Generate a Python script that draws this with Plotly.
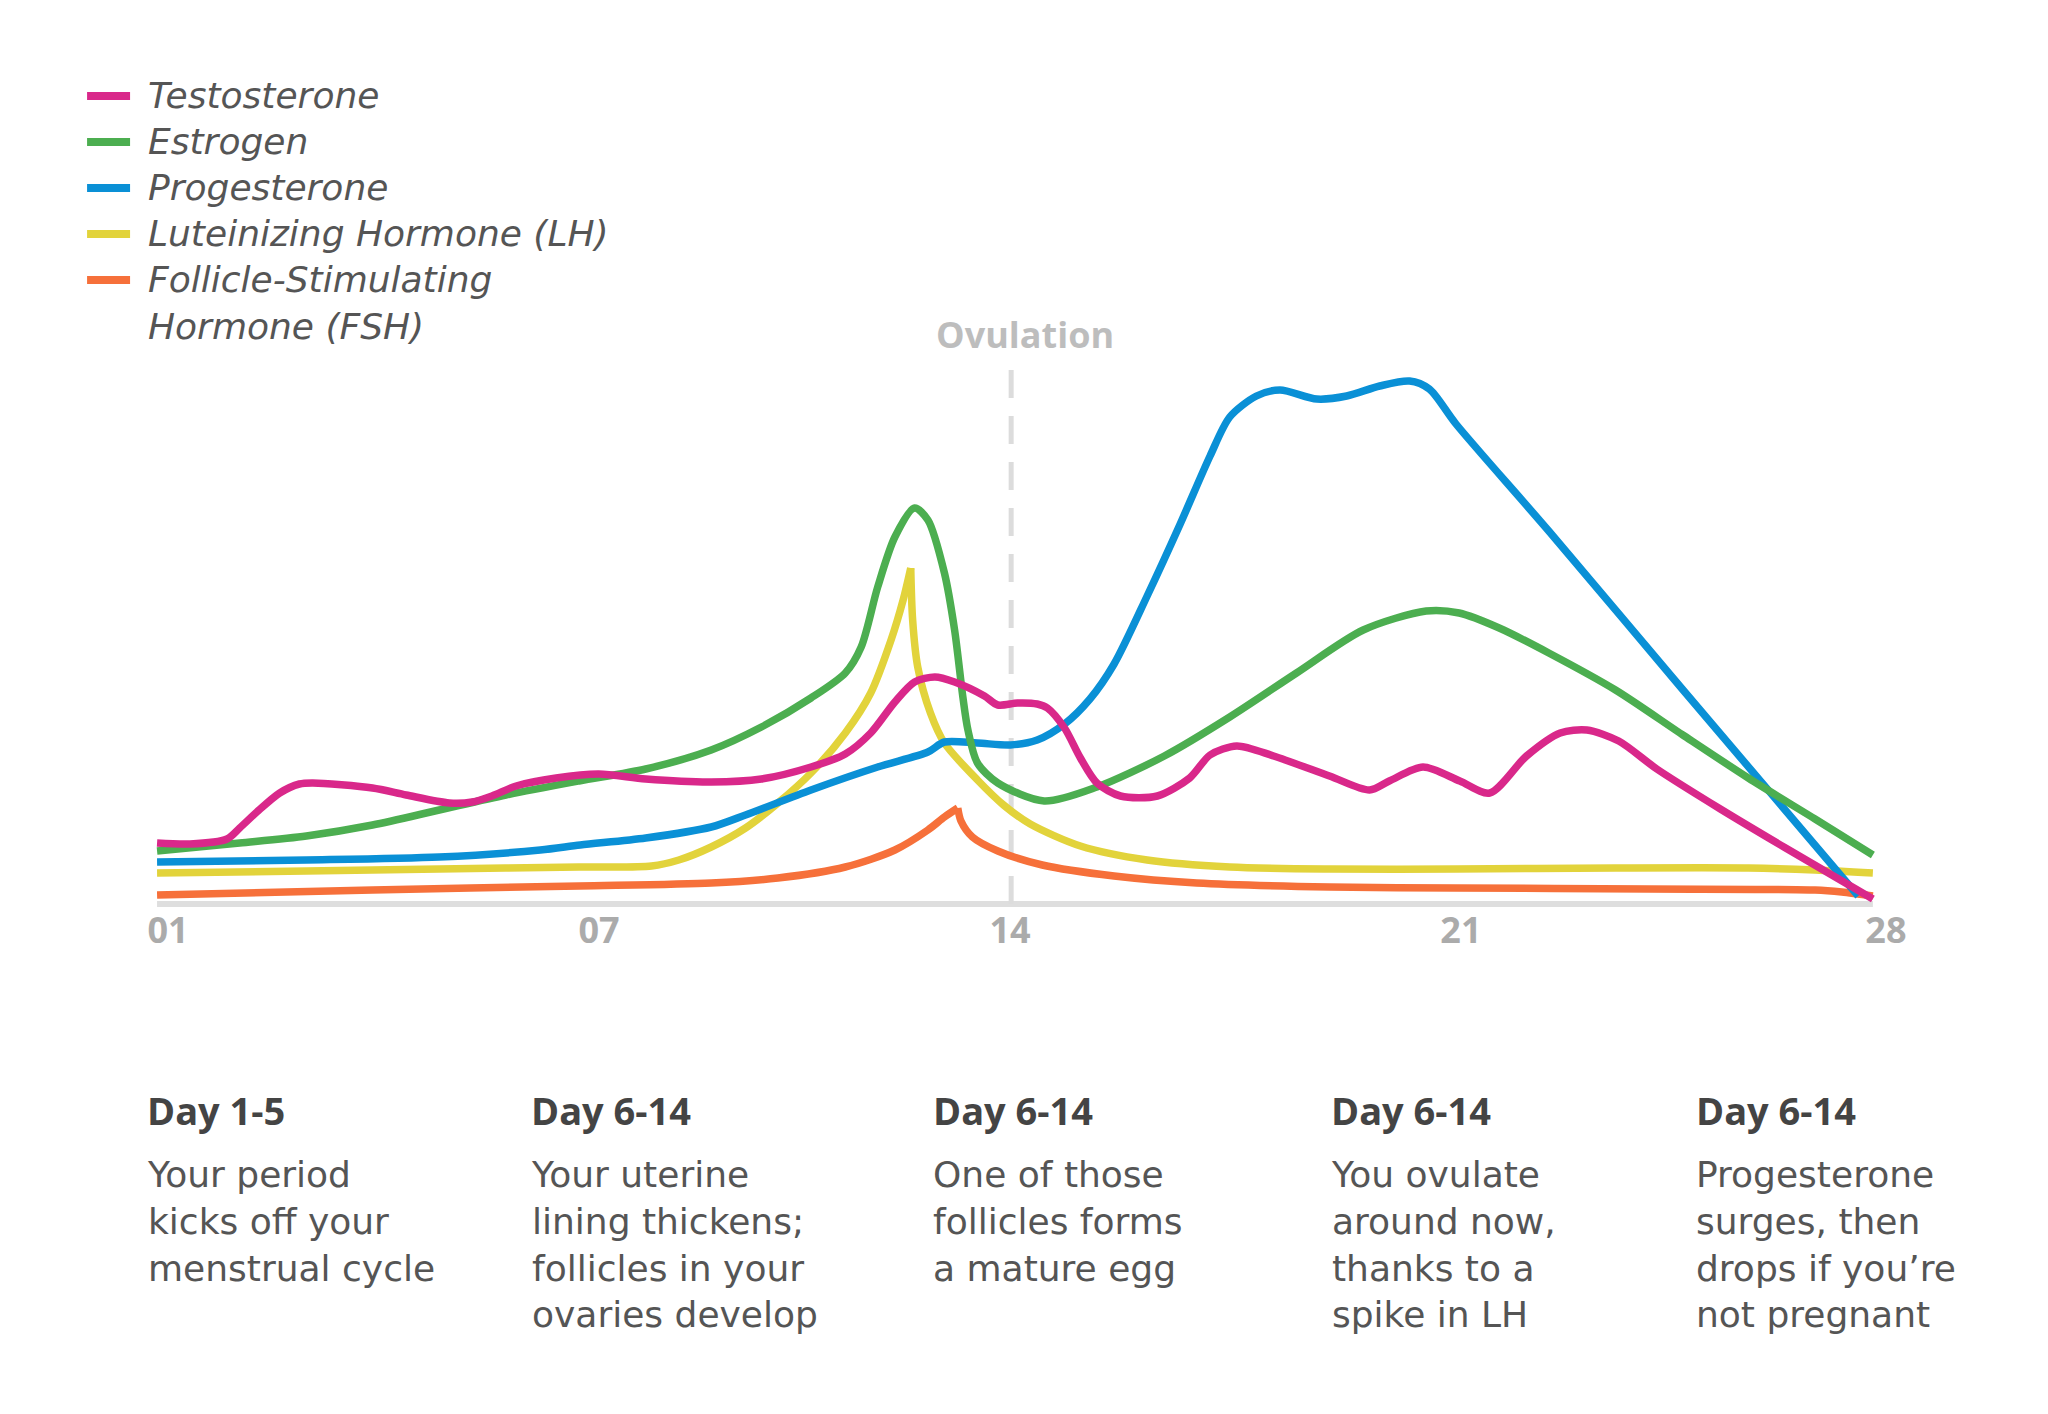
import numpy as np
import plotly.graph_objects as go

# ---------------- data ----------------
testosterone_day = [1.00, 1.52, 2.10, 2.30, 2.57, 2.93, 3.24, 3.45, 4.39, 4.92, 5.60, 5.96, 6.27, 6.65,
                    7.28, 7.95, 8.69, 9.72, 10.51, 11.29, 11.83, 12.23, 12.61, 12.92, 13.24, 13.55,
                    14.02, 14.23, 14.54, 14.85, 15.01, 15.28, 15.53, 15.79, 16.16, 16.74, 17.25,
                    17.57, 17.99, 18.57, 19.45, 20.08, 20.39, 20.92, 21.50, 21.97, 22.55, 23.08,
                    23.50, 24.00, 24.60, 25.60, 26.60, 28.00]
testosterone_lvl = [6.1, 6.0, 6.5, 7.6, 9.2, 11.1, 12.0, 12.1, 11.6, 10.9, 10.1, 10.2, 10.8, 11.8,
                    12.6, 13.0, 12.5, 12.2, 12.5, 13.7, 15.0, 17.1, 20.2, 22.2, 22.7, 22.2,
                    20.8, 19.9, 20.1, 20.0, 19.6, 17.6, 14.6, 12.1, 10.8, 10.8, 12.6,
                    14.9, 15.8, 14.8, 12.8, 11.4, 12.3, 13.7, 12.3, 11.1, 14.8, 17.1,
                    17.4, 16.3, 13.5, 9.5, 5.7, 0.5]

estrogen_day = [1.00, 2.30, 3.35, 4.39, 5.44, 6.49, 7.64, 8.69, 9.72, 10.51, 11.29, 11.83, 12.08,
                12.34, 12.61, 12.92, 13.13, 13.39, 13.55, 13.68, 13.76, 13.91, 14.23, 14.96,
                15.79, 16.85, 17.88, 18.93, 19.98, 20.97, 21.49, 22.12, 22.90, 23.95, 25.01,
                26.04, 27.09, 28.00]
estrogen_lvl = [5.3, 6.1, 6.8, 7.9, 9.4, 10.9, 12.3, 13.5, 15.4, 17.7, 20.6, 23.1, 25.7,
                31.7, 36.7, 39.6, 38.4, 33.1, 27.4, 20.7, 17.4, 14.1, 12.1, 10.3,
                11.7, 14.8, 18.7, 23.1, 27.4, 29.3, 29.1, 27.6, 25.1, 21.4, 16.9,
                12.6, 8.5, 4.9]

progesterone_day = [1.00, 3.35, 5.44, 7.03, 7.66, 8.69, 9.72, 10.26, 11.29, 12.34, 13.13, 13.39,
                    13.91, 14.43, 14.85, 15.28, 15.68, 16.06, 16.58, 17.10, 17.57, 17.88, 18.30,
                    18.67, 19.25, 19.72, 20.24, 20.71, 21.02, 21.44, 22.90, 25.00, 27.77]
progesterone_lvl = [4.2, 4.4, 4.7, 5.4, 5.9, 6.6, 7.7, 8.9, 11.4, 13.7, 15.2, 16.2,
                    16.1, 15.9, 16.4, 18.0, 20.5, 24.0, 30.8, 38.0, 44.8, 48.7, 50.8,
                    51.4, 50.5, 50.8, 51.8, 52.3, 51.5, 48.0, 37.3, 21.5, 0.8]

lh_day = [1.00, 3.35, 5.44, 7.64, 8.78, 9.21, 9.72, 10.26, 10.77, 11.29, 11.83, 12.23, 12.55,
          12.74, 12.86, 12.89, 12.97, 13.17, 13.39, 13.91, 14.32, 14.74, 15.53, 16.58, 17.88,
          19.45, 21.44, 23.95, 26.04, 27.09, 28.00]
lh_lvl = [3.1, 3.3, 3.5, 3.7, 3.8, 4.4, 5.7, 7.6, 10.1, 13.1, 17.1, 21.1, 26.4,
          30.4, 33.6, 28.4, 23.7, 19.1, 16.1, 12.4, 9.9, 8.0, 5.8, 4.4, 3.7,
          3.5, 3.5, 3.6, 3.6, 3.4, 3.1]

fsh_day = [1.00, 4.39, 7.64, 9.72, 10.77, 11.83, 12.61, 13.13, 13.39, 13.60, 13.65, 13.83, 14.23,
           14.93, 16.06, 17.36, 19.45, 21.44, 24.47, 27.09, 27.51, 28.00]
fsh_lvl = [0.9, 1.4, 1.8, 2.1, 2.6, 3.7, 5.4, 7.4, 8.7, 9.6, 8.3, 6.7, 5.3,
           3.9, 2.8, 2.1, 1.7, 1.6, 1.5, 1.4, 1.2, 0.8]

series_names = ["Testosterone", "Estrogen", "Progesterone", "Luteinizing Hormone (LH)",
                "Follicle-Stimulating<br>Hormone (FSH)"]
series_days = [testosterone_day, estrogen_day, progesterone_day, lh_day, fsh_day]
series_lvls = [testosterone_lvl, estrogen_lvl, progesterone_lvl, lh_lvl, fsh_lvl]
series_colors = ["#D9288A", "#4CAE50", "#0A90D6", "#E2D33B", "#F6703A"]
series_cusp = [False, False, False, True, True]   # sharp peak (drawn as two smooth halves)

tick_labels = ["01", "07", "14", "21", "28"]
ovulation_day = 14.44
ovulation_label = "Ovulation"

phase_titles = ["Day 1-5", "Day 6-14", "Day 6-14", "Day 6-14", "Day 6-14"]
phase_texts = [
    ["Your period", "kicks off your", "menstrual cycle"],
    ["Your uterine", "lining thickens;", "follicles in your", "ovaries develop"],
    ["One of those", "follicles forms", "a mature egg"],
    ["You ovulate", "around now,", "thanks to a", "spike in LH"],
    ["Progesterone", "surges, then", "drops if you\u2019re", "not pregnant"],
]

# ---------------- layout geometry ----------------
W, H = 2048, 1414
PX_D1, PX_D28 = 157, 1873
PX_BASE = 904
PX_PER_LVL = 10.0
ppd = (PX_D28 - PX_D1) / 27.0
XR = [0.7, 28.6]
YR = [-1.0, 54.0]
m_l = PX_D1 + (XR[0] - 1) * ppd
m_r = W - (PX_D1 + (XR[1] - 1) * ppd)
m_t = PX_BASE - YR[1] * PX_PER_LVL
m_b = H - (PX_BASE - YR[0] * PX_PER_LVL)
plot_w = W - m_l - m_r
plot_h = H - m_t - m_b


def px_x(p):
    return (p - m_l) / plot_w


def px_y(p):
    return (H - m_b - p) / plot_h


tick_px = [168, 599, 1010, 1461, 1886]
tick_vals = [1 + (p - PX_D1) / ppd for p in tick_px]

BOLD_FONT = "Open Sans"
TEXT_FONT = "DejaVu Sans"

fig = go.Figure()

draw_order = [4, 3, 2, 1, 0]
for i in draw_order:
    d = np.array(series_days[i])
    v = np.array(series_lvls[i])
    if series_cusp[i]:
        k = int(np.argmax(v))
        segs = [(0, k + 1), (k, len(d))]
    else:
        segs = [(0, len(d))]
    for j, (a, bnd) in enumerate(segs):
        fig.add_trace(go.Scatter(
            x=d[a:bnd], y=v[a:bnd], mode="lines",
            name=series_names[i].replace("<br>", " "), legendgroup=series_names[i],
            showlegend=False,
            line=dict(color=series_colors[i], width=7.5, shape="spline", smoothing=0.8),
            hoverinfo="skip",
        ))

shapes = [
    dict(type="line", xref="x", yref="y", x0=1, x1=28, y0=0, y1=0,
         line=dict(color="#DEDEDE", width=6), layer="below"),
    dict(type="line", xref="x", yref="y", x0=ovulation_day, x1=ovulation_day, y0=0, y1=53.4,
         line=dict(color="#DCDCDC", width=5, dash="28px,18px"), layer="below"),
]

annotations = [
    dict(text=ovulation_label, xref="paper", yref="paper", x=px_x(1025), y=px_y(334),
         showarrow=False, xanchor="center", yanchor="middle",
         font=dict(family=BOLD_FONT, size=36, color="#BDBDBD", weight="bold")),
]

# legend (key) built from the series names / colours
legend_centers = [96, 142, 188, 234, 280]
for name, color, cy in zip(series_names, series_colors, legend_centers):
    shapes.append(dict(type="line", xref="paper", yref="paper",
                       x0=px_x(87), x1=px_x(130), y0=px_y(cy), y1=px_y(cy),
                       line=dict(color=color, width=8)))
    annotations.append(dict(
        text=name, xref="paper", yref="paper", x=px_x(146), y=px_y(cy - 23),
        xanchor="left", yanchor="top", showarrow=False, align="left",
        font=dict(family=TEXT_FONT, size=36, color="#555555", style="italic")))

col_px = [145, 529, 931, 1329, 1694]
for cx, title, lines in zip(col_px, phase_titles, phase_texts):
    annotations.append(dict(
        text=title, xref="paper", yref="paper", x=px_x(cx), y=px_y(1110),
        xanchor="left", yanchor="middle", showarrow=False, align="left",
        font=dict(family=BOLD_FONT, size=38, color="#444444", weight="bold")))
    annotations.append(dict(
        text="<br>".join(lines), xref="paper", yref="paper", x=px_x(cx), y=px_y(1152),
        xanchor="left", yanchor="top", showarrow=False, align="left",
        font=dict(family=TEXT_FONT, size=36, color="#555555")))

fig.update_layout(
    width=W, height=H,
    margin=dict(l=m_l, r=m_r, t=m_t, b=m_b, autoexpand=False),
    paper_bgcolor="white", plot_bgcolor="white",
    xaxis=dict(range=XR, showgrid=False, zeroline=False, showline=False,
               tickmode="array", tickvals=tick_vals, ticktext=tick_labels, ticks="",
               ticklabelstandoff=-8,
               tickfont=dict(family=BOLD_FONT, size=36, color="#ABABAB", weight="bold"),
               fixedrange=True),
    yaxis=dict(range=YR, visible=False, fixedrange=True),
    shapes=shapes,
    annotations=annotations,
    showlegend=False,
)

fig.write_html("out.html", config={"displayModeBar": False},
               post_script="document.body.style.margin='0';document.body.style.overflow='hidden';")
